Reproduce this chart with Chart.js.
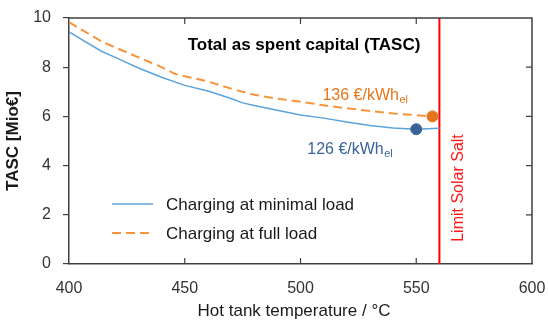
<!DOCTYPE html>
<html>
<head>
<meta charset="utf-8">
<script src="https://cdn.jsdelivr.net/npm/chart.js@4.4.1/dist/chart.umd.min.js"></script>
<style>
  html, body { margin: 0; padding: 0; background: #ffffff; }
  #wrap { width: 548px; height: 323px; }
</style>
</head>
<body>
<div id="wrap"><canvas id="c" width="548" height="323"></canvas></div>
<script>
// Hot tank temperature (°C) and TASC (Mio€) for the two charging strategies
const minLoadTemp = [400, 414, 420, 430, 440, 450, 460, 470, 475, 480, 490, 500, 510, 520, 530, 540, 550, 560];
const minLoadTasc = [9.44, 8.65, 8.40, 7.97, 7.59, 7.26, 7.03, 6.73, 6.55, 6.44, 6.25, 6.06, 5.93, 5.77, 5.63, 5.53, 5.48, 5.52];

const fullLoadTemp = [400, 414, 420, 430, 440, 446, 460, 470, 480, 490, 500, 510, 520, 530, 540, 550, 557];
const fullLoadTasc = [9.83, 9.05, 8.80, 8.40, 8.00, 7.72, 7.42, 7.13, 6.88, 6.72, 6.60, 6.45, 6.33, 6.22, 6.12, 6.05, 6.00];

// Optimum points, marked with their specific cost
const minLoadOpt = { x: 550, y: 5.48, cost: '126' };
const fullLoadOpt = { x: 557, y: 6.00, cost: '136' };

// Material temperature limit of solar salt
const saltLimit = 560;

const xTicks = [400, 450, 500, 550, 600];
const yTicks = [0, 2, 4, 6, 8, 10];

const BLUE = '#5ba3dc';
const ORANGE = '#f7953a';
const BLUE_DOT = '#3a6497';
const ORANGE_DOT = '#e5761a';
const AXIS = '#404040';
const FONT = '"Liberation Sans", Arial, sans-serif';

const pts = (xs, ys) => xs.map((x, i) => ({ x, y: ys[i] }));

const overlay = {
  id: 'overlay',
  afterDraw(chart) {
    const { ctx, chartArea: a, scales: { x, y } } = chart;
    ctx.save();

    // frame: top and right edges
    ctx.strokeStyle = AXIS;
    ctx.lineWidth = 1.5;
    ctx.beginPath();
    ctx.moveTo(a.left, a.top);
    ctx.lineTo(a.right, a.top);
    ctx.lineTo(a.right, a.bottom);
    ctx.stroke();

    // inward tick marks on bottom, top and right
    ctx.lineWidth = 1.2;
    ctx.beginPath();
    xTicks.slice(1, -1).forEach(v => {
      const px = x.getPixelForValue(v);
      ctx.moveTo(px, a.bottom); ctx.lineTo(px, a.bottom - 6);
      ctx.moveTo(px, a.top); ctx.lineTo(px, a.top + 6);
    });
    yTicks.slice(1, -1).forEach(v => {
      const py = y.getPixelForValue(v);
      ctx.moveTo(a.right, py); ctx.lineTo(a.right - 6, py);
    });
    ctx.stroke();

    // chart title
    ctx.fillStyle = '#000000';
    ctx.font = 'bold 17px ' + FONT;
    ctx.textAlign = 'center';
    ctx.textBaseline = 'middle';
    ctx.fillText('Total as spent capital (TASC)', 304, 45);

    // axis titles
    ctx.fillStyle = '#1a1a1a';
    ctx.font = '17px ' + FONT;
    ctx.fillText('Hot tank temperature / °C', 294, 311);
    ctx.save();
    ctx.translate(13, (a.top + a.bottom) / 2);
    ctx.rotate(-Math.PI / 2);
    ctx.font = 'bold 17px ' + FONT;
    ctx.fillText('TASC [Mio€]', 0, 0);
    ctx.restore();

    // limit label
    const lx = x.getPixelForValue(saltLimit);
    ctx.save();
    ctx.translate(lx + 19, 188);
    ctx.rotate(-Math.PI / 2);
    ctx.fillStyle = '#ff1a1a';
    ctx.font = '16px ' + FONT;
    ctx.fillText('Limit Solar Salt', 0, 0);
    ctx.restore();

    // cost labels with subscript
    const costLabel = (opt, color, dx, dy) => {
      const px = x.getPixelForValue(opt.x);
      const py = y.getPixelForValue(opt.y);
      ctx.fillStyle = color;
      ctx.textAlign = 'left';
      ctx.textBaseline = 'alphabetic';
      ctx.font = '16px ' + FONT;
      const main = opt.cost + ' €/kWh';
      ctx.fillText(main, px + dx, py + dy);
      const w = ctx.measureText(main).width;
      ctx.font = '11px ' + FONT;
      ctx.fillText('el', px + dx + w + 0.5, py + dy + 3);
    };
    costLabel(fullLoadOpt, ORANGE_DOT, -110, -16);
    costLabel(minLoadOpt, BLUE_DOT, -109, 25);

    // legend
    const items = [
      { ds: chart.data.datasets[0], y: 204 },
      { ds: chart.data.datasets[1], y: 233 }
    ];
    items.forEach(it => {
      ctx.strokeStyle = it.ds.borderColor;
      ctx.lineWidth = it.ds.borderWidth;
      ctx.setLineDash(it.ds.borderDash || []);
      ctx.beginPath();
      ctx.moveTo(112, it.y);
      ctx.lineTo(153, it.y);
      ctx.stroke();
      ctx.setLineDash([]);
      ctx.fillStyle = '#1a1a1a';
      ctx.font = '17px ' + FONT;
      ctx.textAlign = 'left';
      ctx.textBaseline = 'middle';
      ctx.fillText(it.ds.label, 166, it.y + 1);
    });

    ctx.restore();
  }
};

new Chart(document.getElementById('c'), {
  type: 'line',
  data: {
    datasets: [
      {
        label: 'Charging at minimal load',
        data: pts(minLoadTemp, minLoadTasc),
        borderColor: BLUE, borderWidth: 1.5,
        pointRadius: 0, tension: 0, order: 2
      },
      {
        label: 'Charging at full load',
        data: pts(fullLoadTemp, fullLoadTasc),
        borderColor: ORANGE, borderWidth: 2, borderDash: [9, 5],
        pointRadius: 0, tension: 0, order: 2
      },
      {
        label: 'Limit',
        data: [{ x: saltLimit, y: 0 }, { x: saltLimit, y: 10 }],
        borderColor: '#ff0000', borderWidth: 2,
        pointRadius: 0, order: 3
      },
      {
        label: 'opt min',
        data: [{ x: minLoadOpt.x, y: minLoadOpt.y }],
        showLine: false, pointRadius: 5.5,
        pointBackgroundColor: BLUE_DOT, pointBorderColor: BLUE_DOT, order: 0
      },
      {
        label: 'opt full',
        data: [{ x: fullLoadOpt.x, y: fullLoadOpt.y }],
        showLine: false, pointRadius: 5.5,
        pointBackgroundColor: ORANGE_DOT, pointBorderColor: ORANGE_DOT, order: 0
      }
    ]
  },
  options: {
    responsive: false,
    animation: false,
    devicePixelRatio: 1,
    layout: { padding: { top: 18, right: 16, left: 0, bottom: 0 } },
    plugins: { legend: { display: false }, tooltip: { enabled: false } },
    scales: {
      x: {
        type: 'linear', min: 400, max: 600,
        afterBuildTicks: s => { s.ticks = xTicks.map(v => ({ value: v })); },
        afterFit: s => { s.height = 59; s.paddingLeft = 0; s.paddingRight = 0; },
        grid: { drawOnChartArea: false, drawTicks: false },
        border: { color: AXIS, width: 1.5 },
        ticks: { color: '#333333', font: { family: FONT, size: 16 }, padding: 15, maxRotation: 0 }
      },
      y: {
        min: 0, max: 10,
        afterBuildTicks: s => { s.ticks = yTicks.map(v => ({ value: v })); },
        afterFit: s => { s.width = 69; s.paddingTop = 0; s.paddingBottom = 0; },
        grid: { drawOnChartArea: false, drawTicks: true, tickLength: 6, color: AXIS, lineWidth: 1.2 },
        border: { color: AXIS, width: 1.5 },
        ticks: { color: '#333333', font: { family: FONT, size: 16 }, padding: 12 }
      }
    }
  },
  plugins: [overlay]
});
</script>
</body>
</html>
